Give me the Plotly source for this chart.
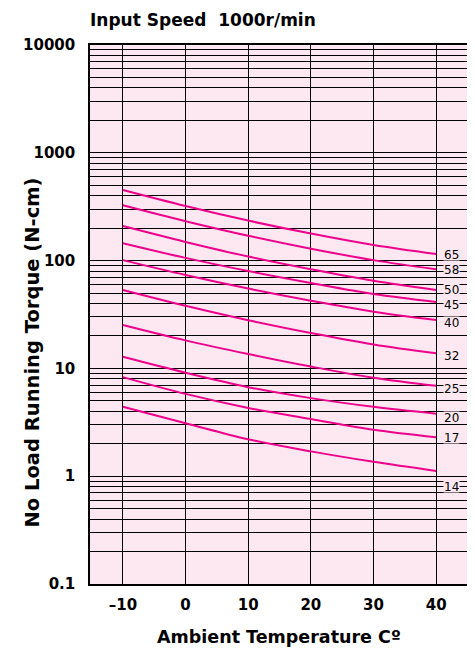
import math
import plotly.graph_objects as go

temps = [-10, 0, 10, 20, 30, 40]
ratio_labels = ["65", "58", "50", "45", "40", "32", "25", "20", "17", "14"]
torque_65 = [452, 321, 235, 178, 139.5, 115]
torque_58 = [326, 232, 170, 129, 101, 83]
torque_50 = [209, 149, 109, 83, 65, 53.4]
torque_45 = [145, 106, 80, 62, 49, 41.3]
torque_40 = [101, 73.5, 55, 42.4, 33.6, 28.1]
torque_32 = [53.4, 38.1, 28.0, 21.3, 16.7, 13.8]
torque_25 = [25.3, 18.2, 13.6, 10.4, 8.2, 6.9]
torque_20 = [12.8, 9.1, 6.7, 5.3, 4.4, 3.8]
torque_17 = [8.3, 5.8, 4.3, 3.4, 2.7, 2.3]
torque_14 = [4.4, 3.1, 2.2, 1.7, 1.36, 1.12]
series = [torque_65, torque_58, torque_50, torque_45, torque_40,
          torque_32, torque_25, torque_20, torque_17, torque_14]
# torque values where the ratio labels sit on the right edge
label_pos = [115, 83.5, 54.5, 39.2, 26.9, 13.3, 6.58, 3.47, 2.31, 0.81]

x_ticks = [-10, 0, 10, 20, 30, 40]
x_tick_text = ["\u201310", "0", "10", "20", "30", "40"]
decades = [0.1, 1, 10, 100, 1000, 10000]
decade_text = ["0.1", "1", "10", "100", "1000", "10000"]

y_vals, y_text = [], []
for i, d in enumerate(decades[:-1]):
    for m in range(1, 10):
        y_vals.append(d * m)
        y_text.append(decade_text[i] if m == 1 else "")
y_vals.append(decades[-1])
y_text.append(decade_text[-1])

PINK = "#fde8f1"
MAGENTA = "#ec008c"
FONT = "DejaVu Sans"

fig = go.Figure()
for vals in series:
    fig.add_trace(go.Scatter(x=temps, y=vals, mode="lines",
                             line=dict(color=MAGENTA, width=2, shape="spline"),
                             showlegend=False, hoverinfo="skip"))

for lab, yp in zip(ratio_labels, label_pos):
    fig.add_annotation(x=41.1, y=math.log10(yp), xref="x", yref="y",
                       text=lab, showarrow=False, xanchor="left", yanchor="middle",
                       font=dict(family=FONT, size=12, color="black"),
                       bgcolor=PINK, borderpad=0, height=11)

fig.add_annotation(x=-0.005, y=1.046, xref="paper", yref="paper",
                   text="Input Speed\u00a0\u00a01000r/min", showarrow=False,
                   xanchor="left", yanchor="middle",
                   font=dict(family=FONT, size=17, color="black", weight="bold"))
fig.add_annotation(x=0.497, y=-0.098, xref="paper", yref="paper",
                   text="Ambient Temperature C\u00ba", showarrow=False,
                   xanchor="center", yanchor="middle",
                   font=dict(family=FONT, size=17.5, color="black", weight="bold"))
fig.add_annotation(x=-0.152, y=0.43, xref="paper", yref="paper",
                   text="No Load Running Torque (N-cm)", showarrow=False, textangle=-90,
                   xanchor="center", yanchor="middle",
                   font=dict(family=FONT, size=19.5, color="black", weight="bold"))

fig.update_layout(
    width=467, height=644,
    margin=dict(l=82, r=3, t=37, b=68),
    paper_bgcolor="white", plot_bgcolor=PINK,
    font=dict(family=FONT, color="black"),
    xaxis=dict(range=[-15.25, 45.4], tickvals=x_ticks, ticktext=x_tick_text,
               showgrid=True, gridcolor="black", gridwidth=1, zeroline=False,
               showline=True, linecolor="black", linewidth=1.5, mirror=True,
               ticks="", tickfont=dict(family=FONT, size=15, weight="bold"),
               ticklabelstandoff=6),
    yaxis=dict(type="log", range=[-1, 4], tickvals=y_vals, ticktext=y_text,
               showgrid=True, gridcolor="black", gridwidth=1, zeroline=False,
               showline=True, linecolor="black", linewidth=1.5, mirror=True,
               ticks="", tickfont=dict(family=FONT, size=15, weight="bold"),
               ticklabelstandoff=10),
)

fig.write_html("out.html")
